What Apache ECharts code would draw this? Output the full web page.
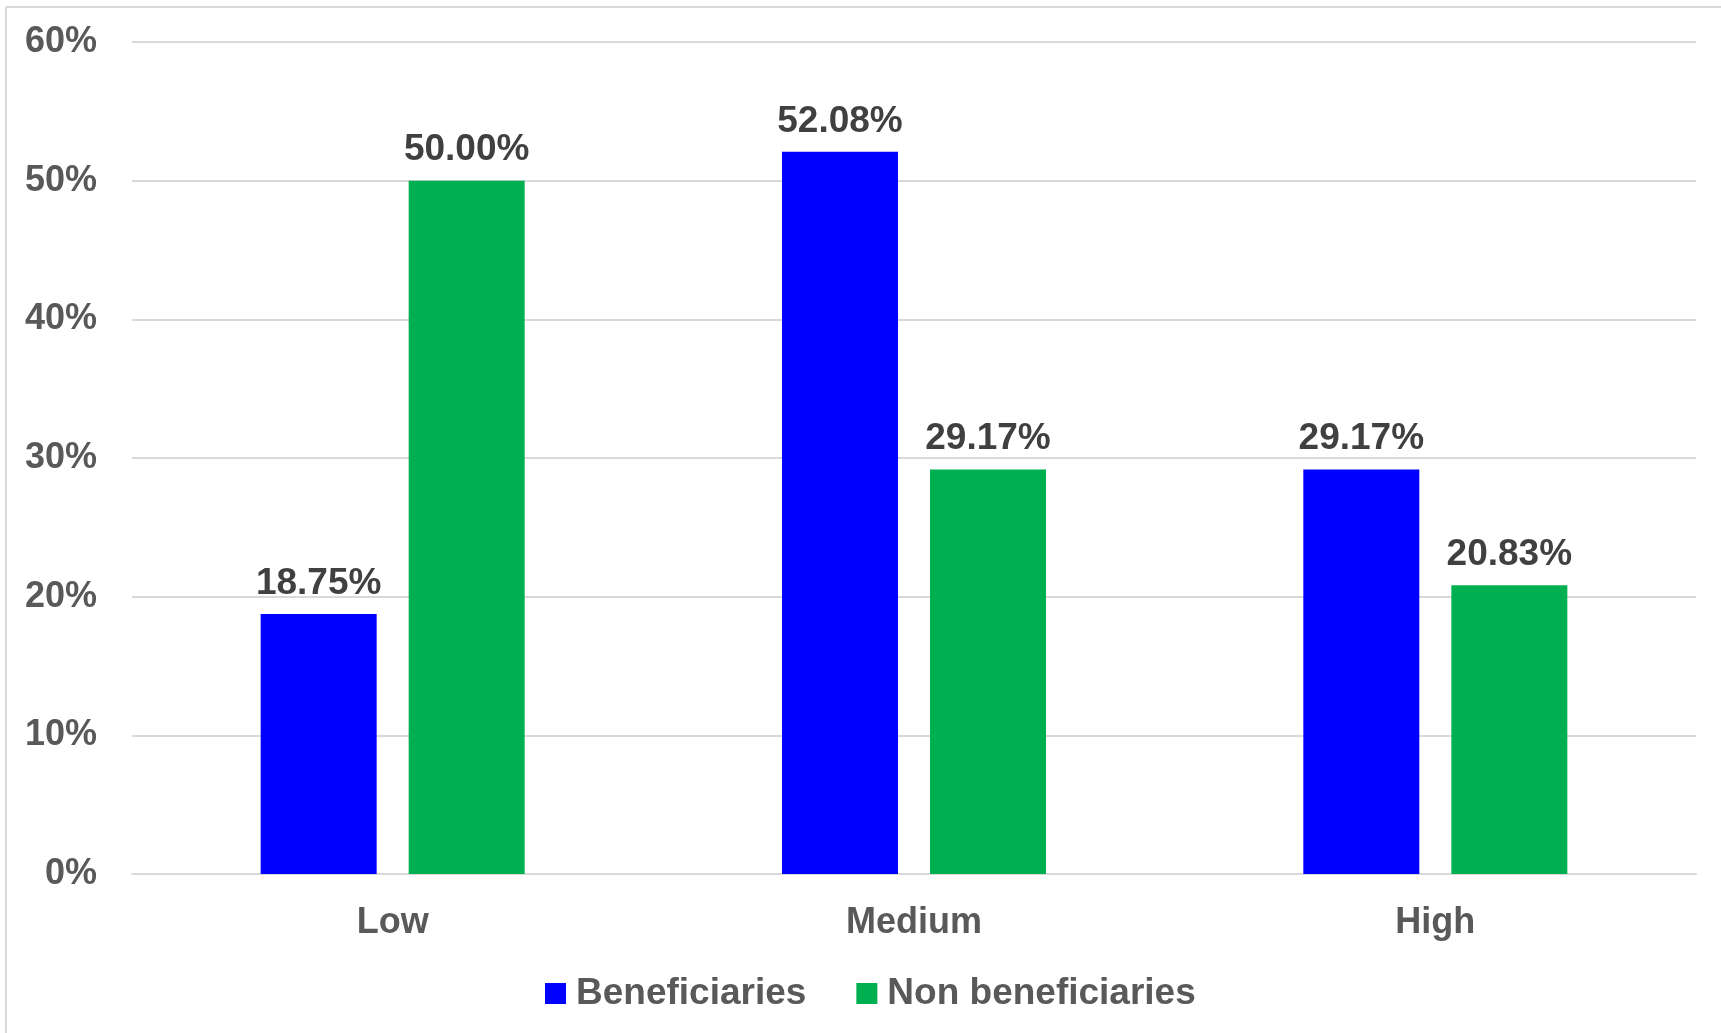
<!DOCTYPE html>
<html>
<head>
<meta charset="utf-8">
<title>Beneficiaries vs Non beneficiaries</title>
<script src="https://cdn.jsdelivr.net/npm/echarts@6/dist/echarts.min.js"></script>
<style>
  html, body { margin: 0; padding: 0; background: #ffffff; }
  #chart { width: 1721px; height: 1033px; }
</style>
</head>
<body>
<div id="chart"></div>
<script>
// Levels on the category axis
const categories = ['Low', 'Medium', 'High'];
// Share of each group per level, in percent
const beneficiaries = [18.75, 52.08, 29.17];
const nonBeneficiaries = [50.00, 29.17, 20.83];
// Value axis range (percent)
const yMin = 0;
const yMax = 60;
const yStep = 10;

const FONT = '"Liberation Sans", Arial, sans-serif';

const chart = echarts.init(document.getElementById('chart'), null, { renderer: 'canvas' });

const labelStyle = {
  show: true,
  position: 'top',
  distance: 12,
  fontFamily: FONT,
  fontWeight: 'bold',
  fontSize: 37,
  color: '#404040',
  formatter: p => p.value.toFixed(2) + '%'
};

chart.setOption({
  backgroundColor: '#ffffff',
  animation: false,
  graphic: [
    { type: 'line', shape: { x1: 6, y1: 7, x2: 1721, y2: 7 }, style: { stroke: '#d9d9d9', lineWidth: 2 } },
    { type: 'line', shape: { x1: 6, y1: 7, x2: 6, y2: 1033 }, style: { stroke: '#d9d9d9', lineWidth: 2 } }
  ],
  grid: { left: 132, right: 25, top: 42, bottom: 159, containLabel: false },
  legend: {
    left: 540,
    top: 970,
    itemWidth: 21,
    itemHeight: 21,
    itemGap: 50,
    icon: 'rect',
    textStyle: { fontFamily: FONT, fontWeight: 'bold', fontSize: 37, color: '#595959', padding: [0, 0, 0, 5] },
    data: ['Beneficiaries', 'Non beneficiaries']
  },
  xAxis: {
    type: 'category',
    data: categories,
    axisLine: { show: true, lineStyle: { color: '#d9d9d9', width: 2 } },
    axisTick: { show: false },
    axisLabel: { margin: 31, fontFamily: FONT, fontWeight: 'bold', fontSize: 36, color: '#595959' }
  },
  yAxis: {
    type: 'value',
    min: yMin,
    max: yMax,
    interval: yStep,
    axisLine: { show: false },
    axisTick: { show: false },
    splitLine: { lineStyle: { color: '#d9d9d9', width: 2 } },
    axisLabel: { margin: 35, fontFamily: FONT, fontWeight: 'bold', fontSize: 36, color: '#595959', formatter: v => v + '%' }
  },
  series: [
    {
      name: 'Beneficiaries',
      type: 'bar',
      data: beneficiaries,
      barWidth: 116,
      barGap: '27.6%',
      itemStyle: { color: '#0000ff' },
      label: labelStyle
    },
    {
      name: 'Non beneficiaries',
      type: 'bar',
      data: nonBeneficiaries,
      barWidth: 116,
      barGap: '27.6%',
      itemStyle: { color: '#00b050' },
      label: labelStyle
    }
  ]
});
</script>
</body>
</html>
